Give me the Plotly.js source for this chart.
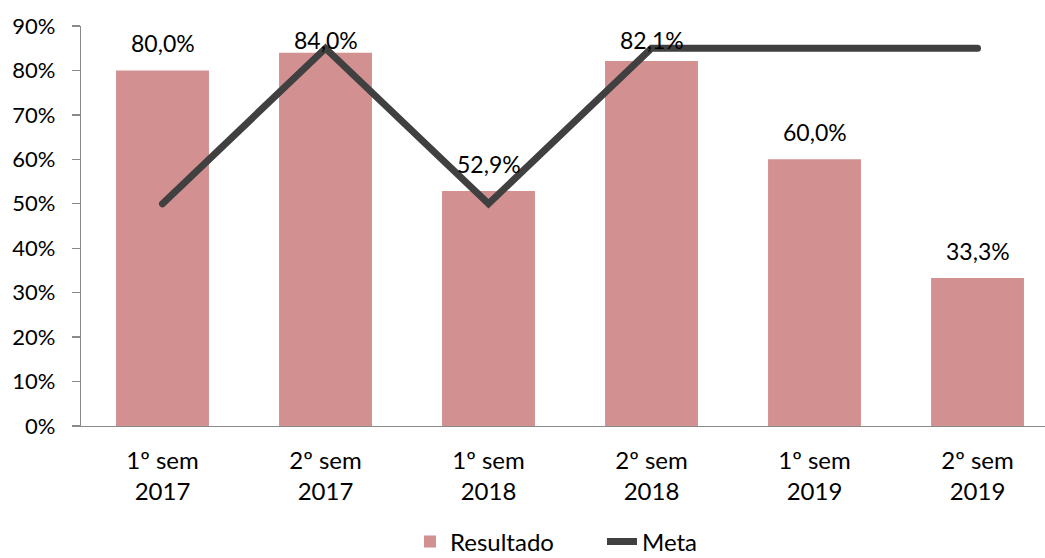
<!DOCTYPE html>
<html>
<head>
<meta charset="utf-8">
<script src="https://cdn.plot.ly/plotly-3.0.1.min.js"></script>
<style>
html,body{margin:0;padding:0;background:#fff;}
#chart{width:1045px;height:558px;}
.scatterlayer path.js-line{stroke-linecap:round;}
</style>
</head>
<body>
<div id="chart"></div>
<script>
const semesters = ['1º sem', '2º sem', '1º sem', '2º sem', '1º sem', '2º sem'];
const years = ['2017', '2017', '2018', '2018', '2019', '2019'];
const resultado = [80.0, 84.0, 52.9, 82.1, 60.0, 33.3];
const meta = [50, 85, 50, 85, 85, 85];
const yTicks = [0, 10, 20, 30, 40, 50, 60, 70, 80, 90];
const yTickLabels = yTicks.map(v => v + '%');

const categories = semesters.map((s, i) => s + '<br>' + years[i]);
const idx = categories.map((_, i) => i);
const FONT = 'Lato, "Open Sans", sans-serif';

const fmt = v => v.toFixed(1).replace('.', ',') + '%';

const traces = [
  {
    type: 'bar', name: 'Resultado', x: idx, y: resultado,
    marker: {color: '#D29190'}, width: 0.57,
    hoverinfo: 'skip'
  },
  {
    type: 'scatter', mode: 'lines', name: 'Meta', x: idx, y: meta,
    line: {color: '#404040', width: 7},
    hoverinfo: 'skip'
  }
];

const annotations = resultado.map((v, i) => ({
  x: i, y: Math.min(v, 80.7), xref: 'x', yref: 'y',
  text: fmt(v), showarrow: false, yanchor: 'middle', yshift: 27,
  font: {family: FONT, size: 23, color: '#000'}
}));

const layout = {
  width: 1045, height: 558,
  margin: {l: 81, r: 0, t: 26, b: 132, autoexpand: false},
  paper_bgcolor: '#fff', plot_bgcolor: '#fff',
  font: {family: FONT, size: 22, color: '#000'},
  showlegend: true,
  legend: {
    orientation: 'h', xref: 'container', yref: 'paper',
    x: 410 / 1045, xanchor: 'left', y: -0.29, yanchor: 'middle',
    entrywidth: 147, entrywidthmode: 'pixels',
    font: {family: FONT, size: 24, color: '#000'},
    traceorder: 'normal'
  },
  xaxis: {
    range: [-0.5, 5.414], tickvals: idx, ticktext: categories,
    showgrid: false, zeroline: false, showline: true,
    linecolor: '#898989', linewidth: 1.3, ticks: '',
    ticklabelstandoff: 13,
    tickfont: {family: FONT, size: 24, color: '#000'}
  },
  yaxis: {
    range: [0, 90], tickvals: yTicks, ticktext: yTickLabels,
    showgrid: false, zeroline: false, showline: true,
    linecolor: '#898989', linewidth: 1.3,
    ticks: 'outside', ticklen: 8, tickcolor: '#898989', tickwidth: 1.3,
    ticklabelstandoff: 12,
    tickfont: {family: FONT, size: 22, color: '#000'}
  },
  annotations: annotations,
  bargap: 0.43
};

Plotly.newPlot('chart', traces, layout, {staticPlot: true, displayModeBar: false});
</script>
</body>
</html>
